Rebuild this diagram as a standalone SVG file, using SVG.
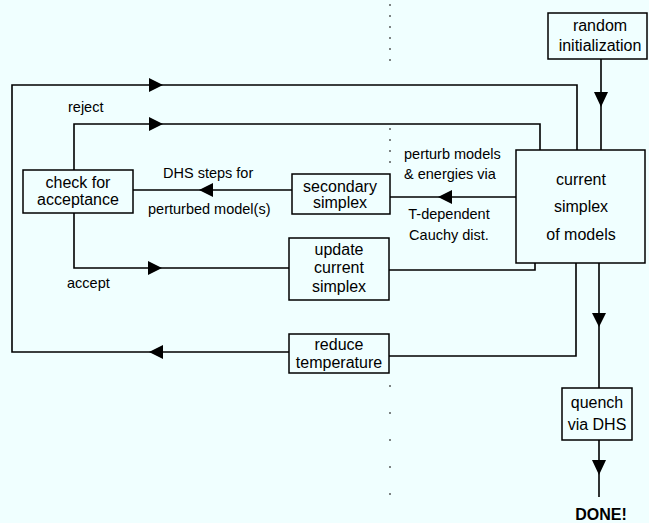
<svg xmlns="http://www.w3.org/2000/svg" width="649" height="523" viewBox="0 0 649 523">
<defs>
<marker id="ah" viewBox="0 0 14 14" markerWidth="14" markerHeight="14" refX="14" refY="7" orient="auto" markerUnits="userSpaceOnUse">
<path d="M0,0 L14,7 L0,14 Z" fill="#000"/>
</marker>
</defs>
<style>
.box{fill:none;stroke:#000;stroke-width:1.5}
.ln{fill:none;stroke:#000;stroke-width:1.6}
.bt{font-family:"Liberation Sans",Arial,sans-serif;font-size:16px;text-anchor:middle;fill:#000}
.lb{font-family:"Liberation Sans",Arial,sans-serif;font-size:14.5px;fill:#000}
.dot{fill:none;stroke:#333;stroke-width:1.2;stroke-dasharray:2 9}
</style>
<rect width="649" height="523" fill="#f0ffff"/>
<path class="dot" d="M390,4 V62"/>
<path class="dot" d="M390,128 V165"/>
<path class="dot" d="M390,385 V520" style="stroke-dasharray:2 25"/>
<g id="connectors">
<!-- random init -> current simplex -->
<path class="ln" d="M601,59 V150"/>
<path d="M594,92 L608,92 L601,107 Z" fill="#000"/>
<!-- top loop from reduce temperature back to current -->
<path class="ln" d="M289,352 H12 V85 H577 V150"/>
<path d="M149,352 L163,345 L163,359 Z" fill="#000"/>
<path d="M149,78 L163,85 L149,92 Z" fill="#000"/>
<!-- reject -->
<path class="ln" d="M74,170 V124 H540 V150"/>
<path d="M149,117 L163,124 L149,131 Z" fill="#000"/>
<!-- secondary -> check -->
<path class="ln" d="M292,190 H133"/>
<path d="M199,190 L213,183 L213,197 Z" fill="#000"/>
<!-- current -> secondary -->
<path class="ln" d="M516,197 H390"/>
<path d="M438,197 L452,190 L452,204 Z" fill="#000"/>
<!-- accept -->
<path class="ln" d="M74,213 V268 H289"/>
<path d="M148,261 L162,268 L148,275 Z" fill="#000"/>
<!-- update -> current -->
<path class="ln" d="M389,270 H535 V263"/>
<!-- current -> reduce -->
<path class="ln" d="M576,263 V356 H389"/>
<!-- current -> quench -->
<path class="ln" d="M599,263 V388"/>
<path d="M592,313 L606,313 L599,327 Z" fill="#000"/>
<!-- quench -> done -->
<path class="ln" d="M599,440 V497"/>
<path d="M592,460 L606,460 L599,475 Z" fill="#000"/>
</g>
<g id="random-init">
<rect class="box" x="548" y="13" width="99" height="46"/>
<text class="bt" x="600" y="31">random</text>
<text class="bt" x="600" y="51">initialization</text>
</g>
<g id="current-simplex">
<rect class="box" x="516" y="150" width="129" height="113"/>
<text class="bt" x="581" y="185">current</text>
<text class="bt" x="581" y="212">simplex</text>
<text class="bt" x="581" y="240">of models</text>
</g>
<g id="check-acceptance">
<rect class="box" x="23" y="170" width="110" height="43"/>
<text class="bt" x="78" y="188">check for</text>
<text class="bt" x="78" y="205">acceptance</text>
</g>
<g id="secondary-simplex">
<rect class="box" x="292" y="174" width="98" height="40"/>
<text class="bt" x="340" y="192">secondary</text>
<text class="bt" x="340" y="208">simplex</text>
</g>
<g id="update-simplex">
<rect class="box" x="289" y="238" width="100" height="62"/>
<text class="bt" x="339" y="255">update</text>
<text class="bt" x="339" y="273">current</text>
<text class="bt" x="339" y="292">simplex</text>
</g>
<g id="reduce-temperature">
<rect class="box" x="289" y="334" width="100" height="39"/>
<text class="bt" x="339" y="350">reduce</text>
<text class="bt" x="339" y="368">temperature</text>
</g>
<g id="quench">
<rect class="box" x="562" y="388" width="70" height="52"/>
<text class="bt" x="597" y="408">quench</text>
<text class="bt" x="597" y="430">via DHS</text>
</g>
<g id="done">
<text class="bt" x="601" y="520" style="font-size:16px;font-weight:bold">DONE!</text>
</g>
<g id="labels">
<text class="lb" x="68" y="112">reject</text>
<text class="lb" x="163" y="178">DHS steps for</text>
<text class="lb" x="148" y="214">perturbed model(s)</text>
<text class="lb" x="67" y="288">accept</text>
<text class="lb" x="404" y="159">perturb models</text>
<text class="lb" x="404" y="179">&amp; energies via</text>
<text class="lb" x="449" y="219" text-anchor="middle">T-dependent</text>
<text class="lb" x="449" y="240" text-anchor="middle">Cauchy dist.</text>
</g>
</svg>
